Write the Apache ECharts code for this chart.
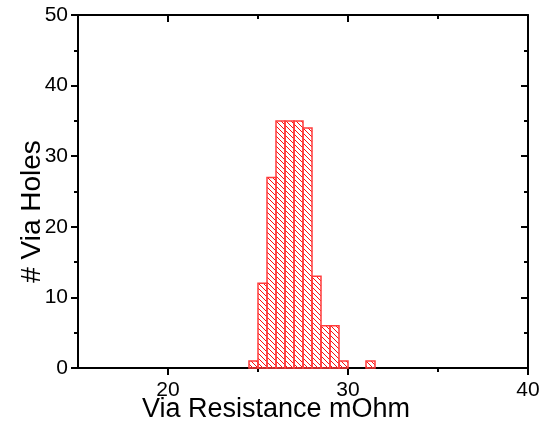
<!DOCTYPE html>
<html>
<head>
<meta charset="utf-8">
<script src="https://cdn.jsdelivr.net/npm/echarts@6/dist/echarts.min.js"></script>
<style>
html,body{margin:0;padding:0;background:#fff;}
#chart{width:542px;height:426px;}
</style>
</head>
<body>
<div id="chart"></div>
<script>
// Histogram bins (left edge, mOhm) and counts
var binStarts = [24.5, 25.0, 25.5, 26.0, 26.5, 27.0, 27.5, 28.0, 28.5, 29.0, 29.5, 31.0];
var counts    = [1,    12,   27,   35,   35,   35,   34,   13,   6,    6,    1,    1];
var binWidth = 0.5;
var xMajorTicks = [20, 30, 40];
var xMinorTicks = [25, 35];
var xTitle = 'Via Resistance mOhm';
var yTitle = '# Via Holes';

var FONT = '"Liberation Sans", Arial, sans-serif';

// hatch pattern "\\\"
var pc = document.createElement('canvas');
var S = 5;
pc.width = S; pc.height = S;
var g = pc.getContext('2d');
g.strokeStyle = 'rgba(255,0,0,0.95)';
g.lineWidth = 1;
g.beginPath();
g.moveTo(-1, -1); g.lineTo(S + 1, S + 1);
g.moveTo(-1, S - 1); g.lineTo(1, S + 1);
g.moveTo(S - 1, -1); g.lineTo(S + 1, 1);
g.stroke();

var data = binStarts.map(function (s, i) { return [s, s + binWidth, counts[i]]; });

var chart = echarts.init(document.getElementById('chart'), null, {renderer: 'canvas'});

var axisLineStyle = {show: true, lineStyle: {color: '#000', width: 2}};

chart.setOption({
  animation: false,
  backgroundColor: '#fff',
  grid: {left: 78, right: 14, top: 15, bottom: 58, containLabel: false, outerBoundsMode: 'none'},
  xAxis: [
    {
      type: 'value', position: 'bottom', min: 15, max: 40, interval: 5,
      axisLine: axisLineStyle,
      axisTick: {show: true, inside: false, length: 7, lineStyle: {color: '#000', width: 2}, customValues: xMajorTicks},
      axisLabel: {show: true, margin: 12, color: '#000', fontSize: 21, fontFamily: FONT, customValues: xMajorTicks},
      splitLine: {show: false},
      name: xTitle, nameLocation: 'middle', nameGap: 28, nameMoveOverlap: false,
      nameTextStyle: {color: '#000', fontSize: 27, fontFamily: FONT, padding: [0, 54, 0, 0]}
    },
    {
      type: 'value', position: 'bottom', min: 15, max: 40, interval: 5, offset: 0,
      axisLine: {show: false},
      axisTick: {show: true, inside: false, length: 4, lineStyle: {color: '#000', width: 2}, customValues: xMinorTicks},
      axisLabel: {show: false},
      splitLine: {show: false}
    },
    {
      type: 'value', position: 'top', min: 15, max: 40, interval: 5,
      axisLine: axisLineStyle,
      axisTick: {show: true, inside: true, length: 7, lineStyle: {color: '#000', width: 2}, customValues: xMajorTicks},
      axisLabel: {show: false},
      splitLine: {show: false}
    },
    {
      type: 'value', position: 'top', min: 15, max: 40, interval: 5, offset: 0,
      axisLine: {show: false},
      axisTick: {show: true, inside: true, length: 4, lineStyle: {color: '#000', width: 2}, customValues: xMinorTicks},
      axisLabel: {show: false},
      splitLine: {show: false}
    }
  ],
  yAxis: [
    {
      type: 'value', position: 'left', min: 0, max: 50, interval: 10,
      axisLine: axisLineStyle,
      axisTick: {show: true, inside: false, length: 7, lineStyle: {color: '#000', width: 2}},
      minorTick: {show: true, splitNumber: 2, length: 4, lineStyle: {color: '#000', width: 2}},
      axisLabel: {show: true, margin: 10, color: '#000', fontSize: 21, fontFamily: FONT},
      splitLine: {show: false},
      name: yTitle, nameLocation: 'middle', nameGap: 32, nameRotate: 90, nameMoveOverlap: false,
      nameTextStyle: {color: '#000', fontSize: 28, fontFamily: FONT, padding: [0, 40, 0, 0]}
    },
    {
      type: 'value', position: 'right', min: 0, max: 50, interval: 10,
      axisLine: axisLineStyle,
      axisTick: {show: true, inside: true, length: 7, lineStyle: {color: '#000', width: 2}},
      minorTick: {show: true, splitNumber: 2, length: 4, lineStyle: {color: '#000', width: 2}},
      axisLabel: {show: false},
      splitLine: {show: false}
    }
  ],
  series: [{
    type: 'custom',
    xAxisIndex: 0,
    yAxisIndex: 0,
    data: data,
    encode: {x: [0, 1], y: 2},
    renderItem: function (params, api) {
      var p0 = api.coord([api.value(0), api.value(2)]);
      var p1 = api.coord([api.value(1), 0]);
      return {
        type: 'rect',
        shape: {x: p0[0], y: p0[1], width: p1[0] - p0[0], height: p1[1] - p0[1]},
        style: {fill: {image: pc, repeat: 'repeat'}, stroke: '#ff3b3b', lineWidth: 1.5}
      };
    }
  }]
});
</script>
</body>
</html>
